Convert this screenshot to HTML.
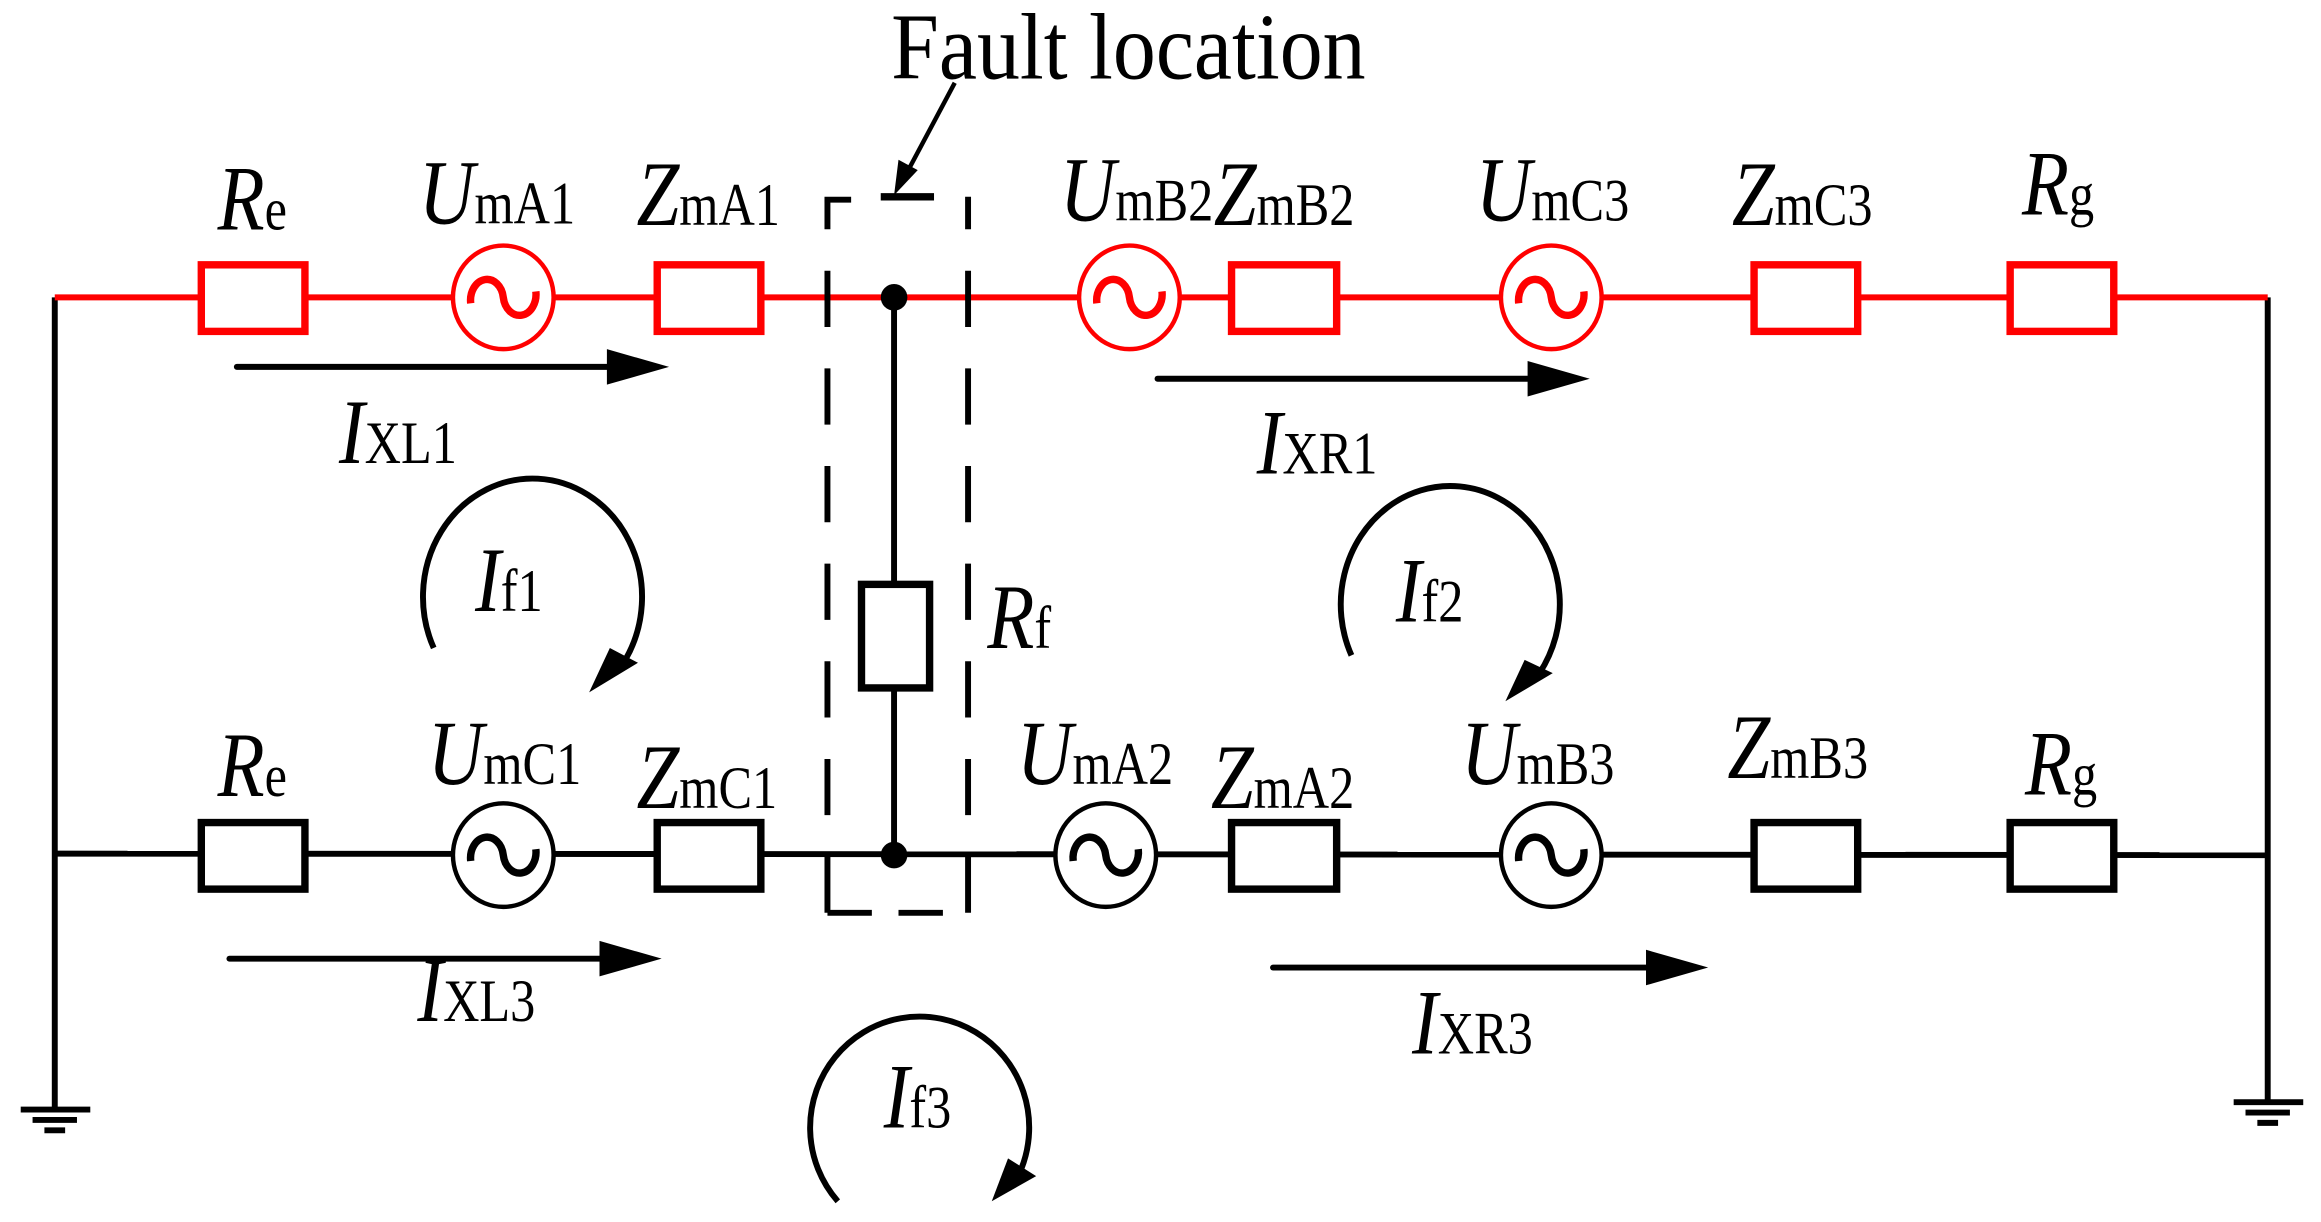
<!DOCTYPE html>
<html><head><meta charset="utf-8"><style>
html,body{margin:0;padding:0;background:#fff;width:2321px;height:1222px;overflow:hidden}
svg{display:block}
text{font-family:"Liberation Serif",serif;fill:#000}
.m{font-style:italic;font-size:52px}
.s{font-size:34px;font-style:normal}
</style></head><body>
<svg width="2321" height="1222" viewBox="0 0 1568 826" preserveAspectRatio="none" xmlns="http://www.w3.org/2000/svg">
<defs>
<g id="sine"><path d="M-22,4 A11,14 0 0 1 0,0 A11,14 0 0 0 22,-4" fill="none" stroke-width="5"/></g>
</defs>
<g stroke="#000" stroke-width="4" fill="none">
<line x1="37" y1="201" x2="37" y2="750"/>
<line x1="1532" y1="201" x2="1532" y2="745"/>
<line x1="604" y1="201" x2="604" y2="395"/>
<line x1="604" y1="465" x2="604" y2="578"/>
</g>
<g stroke="#000" stroke-width="4">
<line x1="14" y1="750" x2="61" y2="750"/><line x1="22" y1="757" x2="52" y2="757"/><line x1="30" y1="764" x2="44" y2="764"/>
<line x1="1509" y1="745" x2="1556" y2="745"/><line x1="1517" y1="752" x2="1547" y2="752"/><line x1="1525" y1="759" x2="1539" y2="759"/>
</g>
<g stroke="#f00" stroke-width="4" fill="#fff">
<line x1="37" y1="201" x2="1532" y2="201"/>
<rect x="136" y="179" width="70" height="45" stroke-width="5"/>
<rect x="444" y="179" width="70" height="45" stroke-width="5"/>
<rect x="832" y="179" width="71" height="45" stroke-width="5"/>
<rect x="1185" y="179" width="70" height="45" stroke-width="5"/>
<rect x="1358" y="179" width="70" height="45" stroke-width="5"/>
<ellipse cx="340" cy="201" rx="34" ry="35" stroke-width="3"/>
<ellipse cx="763" cy="201" rx="34" ry="35" stroke-width="3"/>
<ellipse cx="1048" cy="201" rx="34" ry="35" stroke-width="3"/>
<use href="#sine" x="340" y="201"/><use href="#sine" x="763" y="201"/><use href="#sine" x="1048" y="201"/>
</g>
<g stroke="#000" stroke-width="4" fill="#fff">
<line x1="37" y1="577" x2="1532" y2="578"/>
<rect x="136" y="556" width="70" height="45" stroke-width="5"/>
<rect x="444" y="556" width="70" height="45" stroke-width="5"/>
<rect x="832" y="556" width="71" height="45" stroke-width="5"/>
<rect x="1185" y="556" width="70" height="45" stroke-width="5"/>
<rect x="1358" y="556" width="70" height="45" stroke-width="5"/>
<ellipse cx="340" cy="578" rx="34" ry="35" stroke-width="3"/>
<ellipse cx="747" cy="578" rx="34" ry="35" stroke-width="3"/>
<ellipse cx="1048" cy="578" rx="34" ry="35" stroke-width="3"/>
<use href="#sine" x="340" y="578"/><use href="#sine" x="747" y="578"/><use href="#sine" x="1048" y="578"/>
<rect x="582" y="395" width="46" height="70" stroke-width="5"/>
</g>
<circle cx="604" cy="201" r="9" fill="#000"/>
<circle cx="604" cy="578" r="9" fill="#000"/>
<g stroke="#000" stroke-width="4" fill="none">
<line x1="559" y1="617" x2="559" y2="135" stroke-dasharray="38,28"/>
<line x1="654" y1="617" x2="654" y2="133" stroke-dasharray="38,28"/>
<line x1="559" y1="617" x2="654" y2="617" stroke-dasharray="30,18"/>
<line x1="557" y1="135" x2="575" y2="135"/>
<line x1="595" y1="133" x2="631" y2="133" stroke-width="5"/>
<line x1="645" y1="56" x2="612" y2="118" stroke-width="3"/>
</g>
<polygon points="604,132 607,108 620,115" fill="#000"/>
<text transform="translate(602,53) scale(1,1.1)" font-size="58">Fault location</text>
<g stroke="#000" stroke-width="4" stroke-linecap="round">
<line x1="160" y1="248" x2="415" y2="248"/>
<line x1="782" y1="256" x2="1037" y2="256"/>
<line x1="155" y1="648" x2="410" y2="648"/>
<line x1="860" y1="654" x2="1117" y2="654"/>
</g>
<g fill="#000">
<polygon points="410,236 452,248 410,260"/>
<polygon points="1032,244 1074,256 1032,268"/>
<polygon points="405,636 447,648 405,660"/>
<polygon points="1112,642 1154,654 1112,666"/>
</g>
<g stroke="#000" stroke-width="4" fill="none">
<path d="M293,438 A74,80 0 1 1 423,445"/>
<path d="M913,443 A74,80 0 1 1 1040,455"/>
<path d="M566,812 A74,75 0 1 1 690,790"/>
</g>
<g fill="#000">
<polygon points="398,468 412,438 431,448"/>
<polygon points="1017,474 1030,446 1049,455"/>
<polygon points="670,812 681,783 700,795"/>
</g>
<text transform="translate(147,155) scale(1,1.2)"><tspan class="m">R</tspan><tspan class="s">e</tspan></text>
<text transform="translate(283,151) scale(1,1.2)"><tspan class="m">U</tspan><tspan class="s">mA1</tspan></text>
<text transform="translate(430,152) scale(1,1.2)"><tspan class="m">Z</tspan><tspan class="s">mA1</tspan></text>
<text transform="translate(716,149) scale(1,1.2)"><tspan class="m">U</tspan><tspan class="s">mB2</tspan></text>
<text transform="translate(820,152) scale(1,1.2)"><tspan class="m">Z</tspan><tspan class="s">mB2</tspan></text>
<text transform="translate(997,149) scale(1,1.2)"><tspan class="m">U</tspan><tspan class="s">mC3</tspan></text>
<text transform="translate(1170,152) scale(1,1.2)"><tspan class="m">Z</tspan><tspan class="s">mC3</tspan></text>
<text transform="translate(1366,145) scale(1,1.2)"><tspan class="m">R</tspan><tspan class="s">g</tspan></text>
<text transform="translate(147,538) scale(1,1.2)"><tspan class="m">R</tspan><tspan class="s">e</tspan></text>
<text transform="translate(289,530) scale(1,1.2)"><tspan class="m">U</tspan><tspan class="s">mC1</tspan></text>
<text transform="translate(430,546) scale(1,1.2)"><tspan class="m">Z</tspan><tspan class="s">mC1</tspan></text>
<text transform="translate(687,530) scale(1,1.2)"><tspan class="m">U</tspan><tspan class="s">mA2</tspan></text>
<text transform="translate(818,546) scale(1,1.2)"><tspan class="m">Z</tspan><tspan class="s">mA2</tspan></text>
<text transform="translate(987,530) scale(1,1.2)"><tspan class="m">U</tspan><tspan class="s">mB3</tspan></text>
<text transform="translate(1167,526) scale(1,1.2)"><tspan class="m">Z</tspan><tspan class="s">mB3</tspan></text>
<text transform="translate(1368,537) scale(1,1.2)"><tspan class="m">R</tspan><tspan class="s">g</tspan></text>
<text transform="translate(229,313) scale(1,1.2)"><tspan class="m">I</tspan><tspan class="s">XL1</tspan></text>
<text transform="translate(849,320) scale(1,1.2)"><tspan class="m">I</tspan><tspan class="s">XR1</tspan></text>
<text transform="translate(321,413) scale(1,1.2)"><tspan class="m">I</tspan><tspan class="s">f1</tspan></text>
<text transform="translate(943,420) scale(1,1.2)"><tspan class="m">I</tspan><tspan class="s">f2</tspan></text>
<text transform="translate(667,438) scale(1,1.2)"><tspan class="m">R</tspan><tspan class="s">f</tspan></text>
<text transform="translate(282,690) scale(1,1.2)"><tspan class="m">I</tspan><tspan class="s">XL3</tspan></text>
<text transform="translate(954,712) scale(1,1.2)"><tspan class="m">I</tspan><tspan class="s">XR3</tspan></text>
<text transform="translate(597,762) scale(1,1.2)"><tspan class="m">I</tspan><tspan class="s">f3</tspan></text>
</svg>
</body></html>
